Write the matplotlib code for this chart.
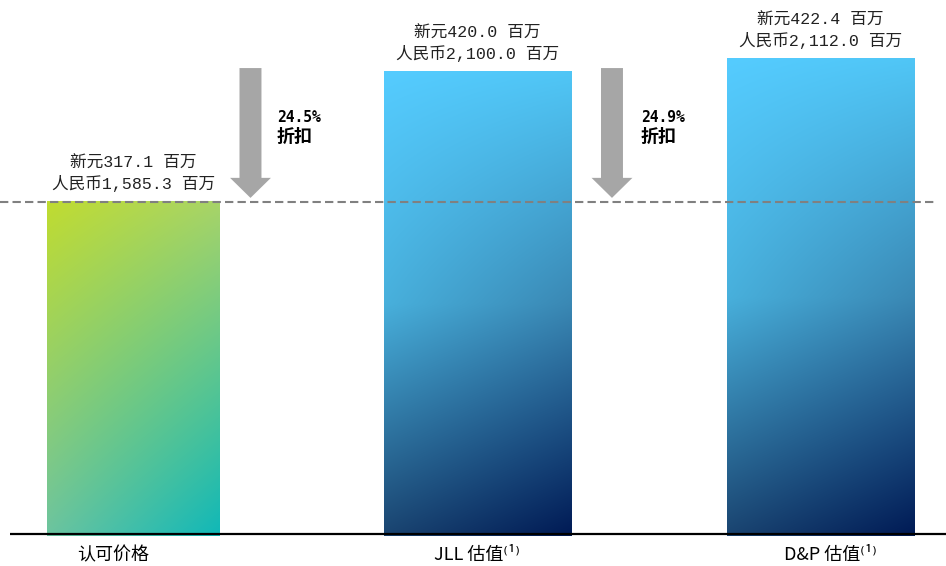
import numpy as np
import matplotlib.pyplot as plt

plt.rcParams['font.family'] = ['Noto Sans CJK SC', 'DejaVu Sans']

categories = ['认可价格', 'JLL 估值⁽¹⁾', 'D&P 估值⁽¹⁾']
sgd_values = [317.1, 420.0, 422.4]
rmb_values = [1585.3, 2100.0, 2112.0]
# the bars in the source are not to scale, heights read off the picture
bar_heights = [317.1, 441.3, 453.7]
discounts = ['24.5%', '24.9%']

# gradient anchor colours (rows top -> bottom, each row left/right)
green_rows = [[(0xc0, 0xdc, 0x30), (0xa8, 0xd4, 0x68)],
              [(0x6c, 0xc4, 0xa0), (0x10, 0xb8, 0xb8)]]
blue_rows = [[(0x55, 0xcc, 0xff), (0x50, 0xc6, 0xf6)],
             [(0x48, 0xb0, 0xdc), (0x3a, 0x88, 0xb4)],
             [(0x1a, 0x44, 0x70), (0x00, 0x1a, 0x55)]]


def gradient(rows, n=300, m=120):
    rows = np.array(rows, float) / 255
    k = rows.shape[0]
    v = np.linspace(0, 1, n)
    u = np.linspace(0, 1, m)
    kv = np.linspace(0, 1, k)
    left = np.stack([np.interp(v, kv, rows[:, 0, c]) for c in range(3)], -1)
    right = np.stack([np.interp(v, kv, rows[:, 1, c]) for c in range(3)], -1)
    return left[:, None, :] * (1 - u[None, :, None]) + right[:, None, :] * u[None, :, None]


fig = plt.figure(figsize=(9.46, 5.66), dpi=100)
ax = fig.add_axes([0, 26 / 566, 1, 540 / 566])
ax.set_xlim(-0.3886, 2.3654)
ax.set_ylim(-5.73, 510.0)
ax.axis('off')

centers = [0, 1.0015, 2.0]
widths = [0.5036, 0.5444, 0.5444]
fills = [green_rows, blue_rows, blue_rows]

for c, w, h, rows in zip(centers, widths, bar_heights, fills):
    ax.imshow(gradient(rows), extent=[c - w / 2, c + w / 2, -2, h],
              aspect='auto', origin='upper', interpolation='bilinear', zorder=2)

# baseline and dashed reference line
ax.hlines(0, -0.3595, 2.3654, color='black', lw=1.6, zorder=4)
ax.hlines(bar_heights[0], -0.3886, 2.333, color='#808080', lw=1.5,
          linestyles=(0, (4, 2)), zorder=3)

# value labels
for c, h, s, r in zip(centers, bar_heights, sgd_values, rmb_values):
    txt = '新元{:.1f} 百万\n人民币{:,.1f} 百万'.format(s, r)
    ax.text(c, h + 9.5, txt, ha='center', va='bottom', fontsize=12,
            linespacing=1.3, family=['Liberation Mono', 'Noto Sans CJK SC'],
            color='#222222')

# discount arrows
arrow_x = [0.3406, 1.3930]
text_x = [0.4178, 1.477]
for ax_, tx, d in zip(arrow_x, text_x, discounts):
    ax.annotate('', xy=(ax_, 321), xytext=(ax_, 445),
                arrowprops=dict(arrowstyle='simple,head_length=1.03,head_width=2.1,tail_width=1.13',
                                mutation_scale=14, color='#a6a6a6', lw=0,
                                shrinkA=0, shrinkB=0), zorder=3)
    ax.text(tx, 398, d, ha='left', va='center', fontsize=10.5,
            fontweight='bold', family=['DejaVu Sans Mono'], color='black')
    ax.text(tx, 380, '折扣', ha='left', va='center', fontsize=13,
            fontweight='bold', color='black')

# category labels
label_x = [-0.06, 1.0, 2.03]
for lx, lab in zip(label_x, categories):
    ax.text(lx, -20, lab, ha='center', va='center', fontsize=13, color='black')

fig.savefig('out.png', dpi=100)
